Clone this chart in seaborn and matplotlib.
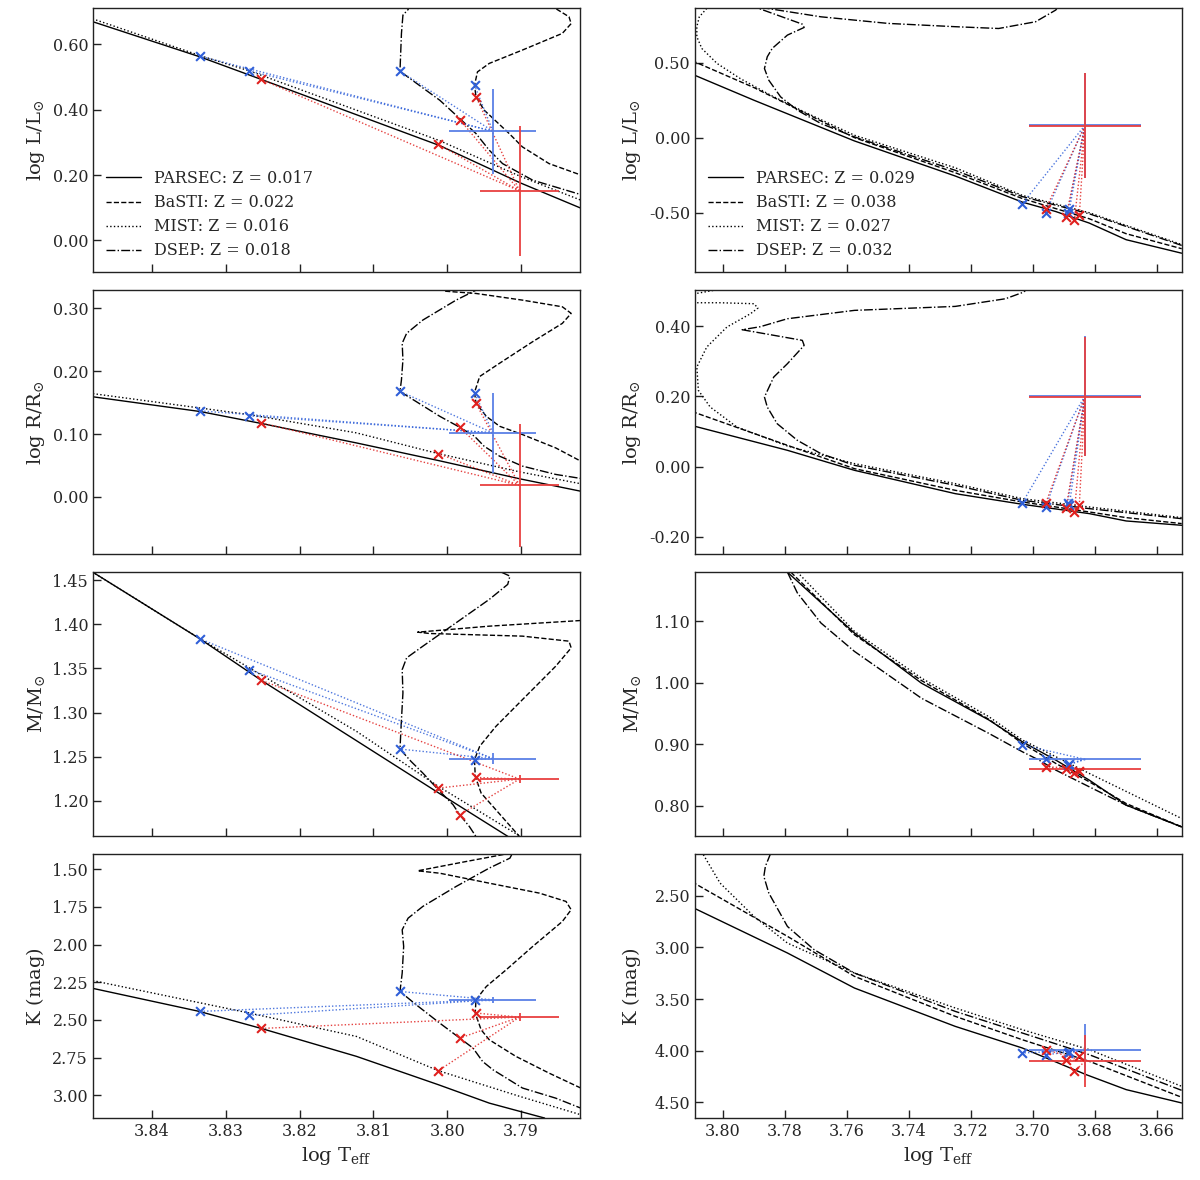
import numpy as np
import pandas as pd
import matplotlib
matplotlib.use("Agg")
import matplotlib.pyplot as plt
import seaborn as sns
from matplotlib.ticker import MultipleLocator, FormatStrFormatter

# ---------------- data ----------------
MODELS = ["PARSEC", "BaSTI", "MIST", "DSEP"]
STYLES = ["-", "--", ":", "-."]
Z_LEFT = ["0.017", "0.022", "0.016", "0.018"]
Z_RIGHT = ["0.029", "0.038", "0.027", "0.032"]

# left column isochrones (logTeff, quantity)
L_LEFT_PARSEC = [(3.849, 0.677), (3.8335, 0.562), (3.8252, 0.493), (3.801, 0.290), (3.790, 0.175), (3.781, 0.090)]
L_LEFT_BASTI = [(3.7853, 0.730), (3.7853, 0.710), (3.7835, 0.685), (3.7832, 0.664), (3.7844, 0.634), (3.7898, 0.583),
                (3.7943, 0.542), (3.7959, 0.516), (3.7963, 0.475), (3.7961, 0.440), (3.7950, 0.399), (3.7916, 0.327),
                (3.7898, 0.286), (3.7862, 0.235), (3.7819, 0.200)]
L_LEFT_MIST = [(3.849, 0.686), (3.8335, 0.566), (3.8268, 0.519), (3.801, 0.305), (3.790, 0.195), (3.781, 0.115)]
L_LEFT_DSEP = [(3.8050, 0.730), (3.8053, 0.707), (3.8060, 0.690), (3.8062, 0.634), (3.8064, 0.518), (3.8010, 0.429),
               (3.7983, 0.373), (3.7961, 0.327), (3.7943, 0.276), (3.7925, 0.235), (3.7884, 0.184), (3.7819, 0.140)]

R_LEFT_PARSEC = [(3.849, 0.161), (3.8335, 0.136), (3.8252, 0.117), (3.8123, 0.086), (3.8012, 0.058), (3.7902, 0.029), (3.781, 0.007)]
R_LEFT_BASTI = [(3.8010, 0.335), (3.8004, 0.3275), (3.7961, 0.3238), (3.7898, 0.3132), (3.7844, 0.3026), (3.7832, 0.2921),
                (3.7844, 0.2762), (3.7884, 0.2472), (3.7929, 0.2128), (3.7956, 0.1917), (3.7963, 0.1663), (3.7961, 0.1494),
                (3.7947, 0.1283), (3.7929, 0.1125), (3.7898, 0.0993), (3.7853, 0.0781), (3.7819, 0.0570)]
R_LEFT_MIST = [(3.849, 0.166), (3.8268, 0.131), (3.8123, 0.102), (3.8012, 0.069), (3.7902, 0.040), (3.781, 0.019)]
R_LEFT_DSEP = [(3.7955, 0.335), (3.7961, 0.329), (3.7988, 0.3132), (3.8033, 0.2815), (3.8055, 0.2604), (3.8061, 0.2445),
               (3.8060, 0.2181), (3.8062, 0.1864), (3.8064, 0.1679), (3.8010, 0.1283), (3.7983, 0.1109), (3.7963, 0.0966),
               (3.7950, 0.0808), (3.7929, 0.0649), (3.7898, 0.0491), (3.7853, 0.0359), (3.7819, 0.0295)]

M_LEFT_PARSEC = [(3.849, 1.4640), (3.8335, 1.3834), (3.8252, 1.3365), (3.8123, 1.2681), (3.8012, 1.2091), (3.7919, 1.1603), (3.790, 1.150)]
M_LEFT_BASTI = [(3.7810, 1.4070), (3.7819, 1.4042), (3.7943, 1.3978), (3.8040, 1.3910), (3.8024, 1.3895), (3.7898, 1.3865),
                (3.7835, 1.3808), (3.7832, 1.3732), (3.7853, 1.3524), (3.7898, 1.3146), (3.7934, 1.2843), (3.7956, 1.2617),
                (3.7963, 1.2465), (3.7962, 1.2276), (3.7954, 1.2087), (3.7934, 1.1898), (3.7902, 1.1595)]
M_LEFT_MIST = [(3.849, 1.4640), (3.8335, 1.3834), (3.8268, 1.3505), (3.8123, 1.2787), (3.8012, 1.2163), (3.7902, 1.1603), (3.789, 1.153)]
M_LEFT_DSEP = [(3.7927, 1.4591), (3.7915, 1.4545), (3.7918, 1.4451), (3.7943, 1.4281), (3.7988, 1.4016), (3.8033, 1.3751),
               (3.8055, 1.3619), (3.8061, 1.3486), (3.8060, 1.3222), (3.8062, 1.2919), (3.8064, 1.2586), (3.8049, 1.2446),
               (3.8033, 1.2314), (3.8012, 1.2125), (3.7992, 1.1955), (3.7983, 1.1841), (3.7970, 1.1709), (3.7961, 1.1595)]

K_LEFT_PARSEC = [(3.849, 2.280), (3.8336, 2.443), (3.8252, 2.556), (3.8123, 2.741), (3.8012, 2.929), (3.7943, 3.051), (3.7868, 3.150)]
K_LEFT_BASTI = [(3.7914, 1.394), (3.7974, 1.449), (3.8040, 1.511), (3.8010, 1.527), (3.7943, 1.593), (3.7875, 1.659),
                (3.7839, 1.714), (3.7832, 1.769), (3.7844, 1.847), (3.7884, 2.012), (3.7920, 2.167), (3.7947, 2.278),
                (3.7961, 2.366), (3.7962, 2.454), (3.7954, 2.565), (3.7943, 2.631), (3.7907, 2.741), (3.7862, 2.852),
                (3.7819, 2.951)]
K_LEFT_MIST = [(3.849, 2.229), (3.8268, 2.454), (3.8123, 2.609), (3.8012, 2.836), (3.7902, 3.006), (3.7819, 3.128)]
K_LEFT_DSEP = [(3.7912, 1.398), (3.7915, 1.427), (3.7943, 1.493), (3.7988, 1.615), (3.8033, 1.747), (3.8053, 1.825),
               (3.8061, 1.902), (3.8059, 2.012), (3.8061, 2.189), (3.8064, 2.311), (3.8042, 2.399), (3.8010, 2.521),
               (3.7983, 2.620), (3.7965, 2.686), (3.7952, 2.775), (3.7938, 2.830), (3.7898, 2.951), (3.7853, 3.018),
               (3.7819, 3.084)]

# right column isochrones
L_RIGHT_PARSEC = [(3.810, 0.425), (3.7900, 0.2506), (3.7576, -0.021), (3.7251, -0.255), (3.7035, -0.429), (3.6927, -0.492),
                  (3.6819, -0.569), (3.6700, -0.680), (3.6521, -0.770)]
L_RIGHT_BASTI = [(3.810, 0.515), (3.7900, 0.335), (3.7576, 0.001), (3.7251, -0.233), (3.7035, -0.405), (3.6819, -0.540),
                 (3.6700, -0.640), (3.6521, -0.740)]
L_RIGHT_MIST = [(3.8052, 0.863), (3.8076, 0.807), (3.8084, 0.741), (3.8084, 0.674), (3.8068, 0.596), (3.8019, 0.496),
                (3.7944, 0.395), (3.7846, 0.284), (3.7738, 0.173), (3.7576, 0.017), (3.7251, -0.200), (3.7035, -0.384),
                (3.6819, -0.500), (3.6521, -0.712)]
L_RIGHT_DSEP = [(3.6521, -0.718), (3.6819, -0.507), (3.7035, -0.392), (3.7251, -0.217), (3.7576, 0.006), (3.7684, 0.095),
                (3.7760, 0.184), (3.7814, 0.273), (3.7852, 0.384), (3.7866, 0.462), (3.7857, 0.540), (3.7841, 0.596),
                (3.7792, 0.685), (3.7738, 0.736), (3.7744, 0.758), (3.7906, 0.879), (3.7684, 0.807), (3.7468, 0.763),
                (3.7251, 0.741), (3.7111, 0.729), (3.6992, 0.774), (3.6927, 0.852), (3.6916, 0.885)]

R_RIGHT_PARSEC = [(3.810, 0.117), (3.7792, 0.0465), (3.7576, -0.0104), (3.7251, -0.0768), (3.7035, -0.107), (3.6819, -0.1336),
                  (3.6700, -0.1545), (3.6521, -0.1668)]
R_RIGHT_BASTI = [(3.810, 0.157), (3.7792, 0.0607), (3.7576, -0.0057), (3.7251, -0.0673), (3.7035, -0.1005), (3.6819, -0.1289),
                 (3.6700, -0.145), (3.6521, -0.162)]
R_RIGHT_MIST = [(3.6521, -0.145), (3.6819, -0.1147), (3.7035, -0.091), (3.7251, -0.0483), (3.7576, 0.0086), (3.7792, 0.0588),
                (3.7955, 0.1128), (3.8041, 0.1697), (3.8079, 0.2171), (3.8084, 0.2834), (3.8052, 0.3403), (3.7987, 0.3972),
                (3.7911, 0.4351), (3.7887, 0.4512), (3.7900, 0.4635), (3.8009, 0.4663), (3.8090, 0.4663), (3.8150, 0.478),
                (3.8090, 0.492), (3.8019, 0.5033), (3.7990, 0.510)]
R_RIGHT_DSEP = [(3.6521, -0.148), (3.6819, -0.1194), (3.7035, -0.0957), (3.7251, -0.053), (3.7576, 0.0038), (3.7684, 0.037),
                (3.7760, 0.0749), (3.7825, 0.1222), (3.7857, 0.1697), (3.7866, 0.1981), (3.7846, 0.236), (3.7836, 0.255),
                (3.7792, 0.2929), (3.7738, 0.345), (3.7744, 0.3593), (3.7938, 0.3896), (3.7880, 0.398), (3.7792, 0.4208),
                (3.7576, 0.4446), (3.7251, 0.4559), (3.7089, 0.4777), (3.7030, 0.4967), (3.7015, 0.510)]

M_RIGHT_PARSEC = [(3.7792, 1.180), (3.7576, 1.081), (3.7360, 0.9994), (3.7143, 0.9396), (3.7035, 0.9042), (3.6927, 0.8743),
                  (3.6819, 0.8417), (3.6700, 0.8010), (3.6521, 0.7656)]
M_RIGHT_BASTI = [(3.7781, 1.180), (3.7576, 1.0782), (3.7360, 1.0037), (3.7143, 0.9407), (3.7035, 0.9015), (3.6927, 0.8689),
                 (3.6819, 0.8390), (3.6700, 0.8036), (3.6521, 0.7656)]
M_RIGHT_MIST = [(3.7760, 1.180), (3.7576, 1.0837), (3.7360, 1.0076), (3.7143, 0.9450), (3.7035, 0.9070), (3.6819, 0.8526),
                (3.6521, 0.7792)]
M_RIGHT_DSEP = [(3.7792, 1.180), (3.7760, 1.1462), (3.7684, 1.0973), (3.7576, 1.0511), (3.7360, 0.9749), (3.7143, 0.9178),
                (3.7035, 0.8879), (3.6981, 0.8743), (3.6927, 0.8580), (3.6819, 0.8308), (3.6700, 0.8010), (3.6521, 0.7656)]

K_RIGHT_PARSEC = [(3.810, 2.610), (3.7792, 3.054), (3.7576, 3.393), (3.7251, 3.764), (3.7035, 3.973), (3.6829, 4.231),
                  (3.6700, 4.376), (3.6521, 4.505)]
K_RIGHT_BASTI = [(3.810, 2.365), (3.7792, 2.893), (3.7576, 3.280), (3.7251, 3.667), (3.7035, 3.893), (3.6819, 4.102),
                 (3.6521, 4.450)]
K_RIGHT_MIST = [(3.8063, 2.103), (3.8009, 2.378), (3.7900, 2.700), (3.7792, 2.958), (3.7576, 3.248), (3.7251, 3.586),
                (3.7035, 3.796), (3.6819, 3.989), (3.6521, 4.344)]
K_RIGHT_DSEP = [(3.7846, 2.090), (3.7863, 2.216), (3.7868, 2.313), (3.7852, 2.474), (3.7792, 2.797), (3.7706, 3.022),
                (3.7576, 3.248), (3.7251, 3.619), (3.7035, 3.828), (3.6819, 4.038), (3.6521, 4.383)]

# observed stars: (logTeff, err), quantity (value, err)
OBS_TEFF_LEFT = {"blue": (3.7938, 0.0059), "red": (3.7902, 0.0053)}
OBS_TEFF_RIGHT = {"blue": (3.6833, 0.018), "red": (3.6833, 0.018)}
OBS_L_LEFT = {"blue": (0.334, 0.130), "red": (0.1515, 0.200)}
OBS_R_LEFT = {"blue": (0.102, 0.064), "red": (0.0184, 0.098)}
OBS_M_LEFT = {"blue": (1.2477, 0.006), "red": (1.2246, 0.005)}
OBS_K_LEFT = {"blue": (2.366, 0.020), "red": (2.481, 0.025)}
OBS_L_RIGHT = {"blue": (0.083, 0.350), "red": (0.079, 0.350)}
OBS_R_RIGHT = {"blue": (0.201, 0.170), "red": (0.199, 0.170)}
OBS_M_RIGHT = {"blue": (0.8755, 0.0), "red": (0.860, 0.0)}
OBS_K_RIGHT = {"blue": (3.996, 0.255), "red": (4.102, 0.250)}

# best-fit model points (PARSEC, BaSTI, MIST, DSEP)
FIT_LEFT_T = {"blue": [3.8335, 3.7963, 3.8268, 3.8064], "red": [3.8252, 3.7961, 3.8012, 3.7983]}
FIT_L_LEFT = {"blue": [0.564, 0.475, 0.519, 0.518], "red": [0.493, 0.440, 0.294, 0.370]}
FIT_R_LEFT = {"blue": [0.137, 0.166, 0.129, 0.168], "red": [0.118, 0.149, 0.069, 0.111]}
FIT_M_LEFT = {"blue": [1.3834, 1.2465, 1.3486, 1.2586], "red": [1.3365, 1.2265, 1.2144, 1.1841]}
FIT_K_LEFT = {"blue": [2.443, 2.366, 2.470, 2.311], "red": [2.556, 2.454, 2.836, 2.620]}
FIT_RIGHT_T = {"blue": [3.7035, 3.6959, 3.6889, 3.6883], "red": [3.6959, 3.6894, 3.6867, 3.6851]}
FIT_L_RIGHT = {"blue": [-0.440, -0.500, -0.500, -0.478], "red": [-0.473, -0.529, -0.551, -0.518]}
FIT_R_RIGHT = {"blue": [-0.1033, -0.1146, -0.1033, -0.108], "red": [-0.1033, -0.119, -0.129, -0.110]}
FIT_M_RIGHT = {"blue": [0.899, 0.8755, 0.866, 0.868], "red": [0.8635, 0.8592, 0.8527, 0.857]}
FIT_K_RIGHT = {"blue": [4.021, 4.038, 4.021, 4.010], "red": [3.989, 4.086, 4.199, 4.054]}

COLORS = {"blue": "#2f5fd8", "red": "#e0201e"}
ERR_COLORS = {"blue": "#5a80e6", "red": "#e84040"}

# ---------------- style ----------------
sns.set_style("white")
plt.rcParams["font.family"] = ["DejaVu Serif"]
plt.rcParams["mathtext.fontset"] = "dejavuserif"
plt.rcParams["axes.unicode_minus"] = False
plt.rcParams["axes.edgecolor"] = "#222222"

fig, axes = plt.subplots(4, 2, figsize=(12, 11.8), dpi=100)
fig.subplots_adjust(left=0.0775, right=0.985, top=0.993, bottom=0.0525, hspace=0.068, wspace=0.236)

panels = [
    # (row, col, curves, obs_q, fit_t, fit_q, obs_t, ylim, ystep, ylabel, zlist)
    (0, 0, [L_LEFT_PARSEC, L_LEFT_BASTI, L_LEFT_MIST, L_LEFT_DSEP], OBS_L_LEFT, FIT_LEFT_T, FIT_L_LEFT, OBS_TEFF_LEFT,
     (-0.098, 0.711), 0.2, r"$\log\,\mathrm{L/L_{\odot}}$", Z_LEFT),
    (1, 0, [R_LEFT_PARSEC, R_LEFT_BASTI, R_LEFT_MIST, R_LEFT_DSEP], OBS_R_LEFT, FIT_LEFT_T, FIT_R_LEFT, OBS_TEFF_LEFT,
     (-0.091, 0.329), 0.1, r"$\log\,\mathrm{R/R_{\odot}}$", None),
    (2, 0, [M_LEFT_PARSEC, M_LEFT_BASTI, M_LEFT_MIST, M_LEFT_DSEP], OBS_M_LEFT, FIT_LEFT_T, FIT_M_LEFT, OBS_TEFF_LEFT,
     (1.160, 1.459), 0.05, r"$\mathrm{M/M_{\odot}}$", None),
    (3, 0, [K_LEFT_PARSEC, K_LEFT_BASTI, K_LEFT_MIST, K_LEFT_DSEP], OBS_K_LEFT, FIT_LEFT_T, FIT_K_LEFT, OBS_TEFF_LEFT,
     (3.150, 1.400), 0.25, r"$\mathrm{K\ (mag)}$", None),
    (0, 1, [L_RIGHT_PARSEC, L_RIGHT_BASTI, L_RIGHT_MIST, L_RIGHT_DSEP], OBS_L_RIGHT, FIT_RIGHT_T, FIT_L_RIGHT, OBS_TEFF_RIGHT,
     (-0.897, 0.864), 0.5, r"$\log\,\mathrm{L/L_{\odot}}$", Z_RIGHT),
    (1, 1, [R_RIGHT_PARSEC, R_RIGHT_BASTI, R_RIGHT_MIST, R_RIGHT_DSEP], OBS_R_RIGHT, FIT_RIGHT_T, FIT_R_RIGHT, OBS_TEFF_RIGHT,
     (-0.249, 0.502), 0.2, r"$\log\,\mathrm{R/R_{\odot}}$", None),
    (2, 1, [M_RIGHT_PARSEC, M_RIGHT_BASTI, M_RIGHT_MIST, M_RIGHT_DSEP], OBS_M_RIGHT, FIT_RIGHT_T, FIT_M_RIGHT, OBS_TEFF_RIGHT,
     (0.7506, 1.180), 0.1, r"$\mathrm{M/M_{\odot}}$", None),
    (3, 1, [K_RIGHT_PARSEC, K_RIGHT_BASTI, K_RIGHT_MIST, K_RIGHT_DSEP], OBS_K_RIGHT, FIT_RIGHT_T, FIT_K_RIGHT, OBS_TEFF_RIGHT,
     (4.651, 2.097), 0.5, r"$\mathrm{K\ (mag)}$", None),
]

for row, col, curves, obs_q, fit_t, fit_q, obs_t, ylim, ystep, ylabel, zlist in panels:
    ax = axes[row, col]

    # isochrones
    for name, ls, pts in zip(MODELS, STYLES, curves):
        d = pd.DataFrame(pts, columns=["teff", "q"])
        lbl = f"{name}: Z = {zlist[MODELS.index(name)]}" if zlist else None
        sns.lineplot(data=d, x="teff", y="q", sort=False, estimator=None, color="black",
                     linestyle=ls, linewidth=1.0, ax=ax, label=lbl, legend=False)

    # observed stars, links to fitted points, fitted points
    for star in ["blue", "red"]:
        t0, te = obs_t[star]
        q0, qe = obs_q[star]
        for tf, qf in zip(fit_t[star], fit_q[star]):
            ax.plot([t0, tf], [q0, qf], linestyle=(0, (1, 1.5)), color=COLORS[star], lw=1.0, alpha=0.85, zorder=3)
        ax.errorbar(t0, q0, xerr=te, yerr=qe, fmt="none", ecolor=ERR_COLORS[star], elinewidth=1.3,
                    capsize=0, zorder=4)
        fd = pd.DataFrame({"teff": fit_t[star], "q": fit_q[star]})
        sns.scatterplot(data=fd, x="teff", y="q", marker="x", color=COLORS[star], s=40, linewidth=1.5,
                        ax=ax, zorder=5, legend=False)

    if col == 0:
        ax.set_xlim(3.848, 3.782)
        ax.xaxis.set_major_locator(MultipleLocator(0.01))
    else:
        ax.set_xlim(3.809, 3.652)
        ax.xaxis.set_major_locator(MultipleLocator(0.02))
    ax.xaxis.set_major_formatter(FormatStrFormatter("%.2f"))
    ax.set_ylim(*ylim)
    ax.yaxis.set_major_locator(MultipleLocator(ystep))
    ax.yaxis.set_major_formatter(FormatStrFormatter("%.2f"))

    ax.tick_params(direction="in", length=6, width=1, labelsize=11.5, top=False, right=False,
                   bottom=True, left=True, color="#222222")
    ax.set_ylabel(ylabel, fontsize=14)
    if row == 3:
        ax.set_xlabel(r"$\log\,\mathrm{T_{eff}}$", fontsize=14)
    else:
        ax.set_xlabel("")
        ax.tick_params(labelbottom=False)

    if zlist:
        ax.legend(loc="lower left", frameon=False, fontsize=11.5, handlelength=2.2, labelspacing=0.45,
                  borderaxespad=0.4)

    for sp in ax.spines.values():
        sp.set_linewidth(1.0)

fig.align_ylabels(axes[:, 0])
fig.align_ylabels(axes[:, 1])
fig.savefig("out.png", dpi=100)
